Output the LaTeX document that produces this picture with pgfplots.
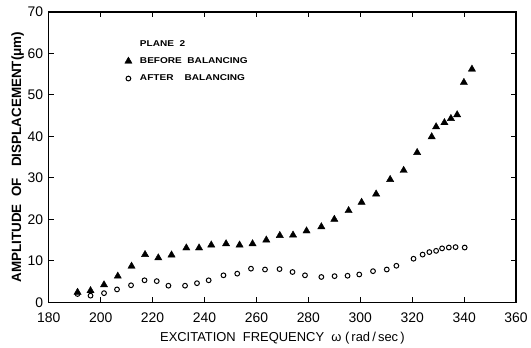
\documentclass[border=0pt]{standalone}
\usepackage{fontspec}
\setmainfont{Liberation Sans}
\usepackage{graphicx}
\usepackage{pgfplots}
\pgfplotsset{compat=1.18}
\newcommand{\legtxt}[1]{\scalebox{1.19}[1]{#1}}
\begin{document}
\begin{tikzpicture}
\begin{axis}[
  scale only axis,
  width=470pt, height=292pt,
  xmin=180, xmax=360, ymin=0, ymax=70,
  xtick={180,200,...,360}, ytick={0,10,...,70},
  tick align=inside,
  major tick length=5pt,
  axis line style={line width=1.2pt},
  every tick/.style={line width=1pt, black},
  /pgf/number format/assume math mode=true,
  /pgf/number format/1000 sep={},
  tick label style={font=\fontsize{14}{14}\selectfont},
  yticklabel style={xshift=-2pt},
  xticklabel style={yshift=-7pt},
  xlabel={EXCITATION\ \ FREQUENCY\ \ ω\ (\,rad\,/\,sec\,)},
  ylabel={AMPLITUDE\ \ OF\ \ \ DISPLACEMENT(μm)},
  xlabel style={font=\fontsize{13}{13}\selectfont, yshift=-3pt},
  ylabel style={font=\fontsize{13.5}{13.5}\selectfont\bfseries, yshift=-3pt},
  legend style={draw=none, fill=none, at={(axis cs:206.2,64.2)}, anchor=north west,
    font=\fontsize{8.5}{9.5}\selectfont\bfseries, row sep=6pt,
    legend cell align=left},
  legend style={/tikz/every odd column/.append style={column sep=6pt}},
]
\addlegendimage{empty legend}
\addlegendentry{\legtxt{PLANE\ \ 2}}
\addplot[only marks, mark=triangle*, mark size=4.2pt, black] coordinates {
(191.1,2.4) (196.1,2.8) (201.3,4.2) (206.6,6.3) (211.9,8.7) (217.1,11.5)
(222.2,10.7) (227.3,11.4) (233.0,13.1) (237.9,13.1) (242.6,13.8) (248.3,14.1)
(253.5,13.8) (258.5,14.1) (263.8,15.0) (269.0,16.1) (274.1,16.2) (279.3,17.2)
(285.0,18.2) (290.0,20.0) (295.5,22.1) (300.5,24.1) (306.1,26.1) (311.5,29.6)
(316.7,31.8) (321.9,36.1) (327.5,39.9) (329.2,42.3) (332.4,43.3) (334.9,44.3)
(337.3,45.2) (339.9,53.0) (343.0,56.2)
};
\addlegendentry{\legtxt{BEFORE\ \ BALANCING}}
\addplot[only marks, mark=o, mark size=2.4pt, line width=1pt, black] coordinates {
(191.1,2.0) (196.1,1.6) (201.3,2.2) (206.3,3.1) (211.7,4.1) (216.9,5.3)
(221.6,5.1) (226.1,4.0) (232.5,4.0) (237.1,4.6) (241.6,5.3) (247.3,6.5)
(252.6,6.9) (257.9,8.1) (263.3,7.9) (268.9,8.0) (273.9,7.3) (278.7,6.5)
(285.0,6.1) (290.1,6.3) (295.1,6.4) (299.6,6.7) (304.9,7.5) (310.2,7.9)
(313.9,8.8) (320.5,10.5) (324.0,11.5) (326.6,12.1) (329.2,12.4) (331.5,13.0)
(334.1,13.2) (336.7,13.3) (340.2,13.2)
};
\addlegendentry{\legtxt{AFTER\ \ \ \ BALANCING}}
\end{axis}
\path[draw=none] (current axis.north east) -- ++(12pt,12pt);
\path[draw=none] (current axis.south west) -- ++(-49pt,-45pt);
\end{tikzpicture}
\end{document}
